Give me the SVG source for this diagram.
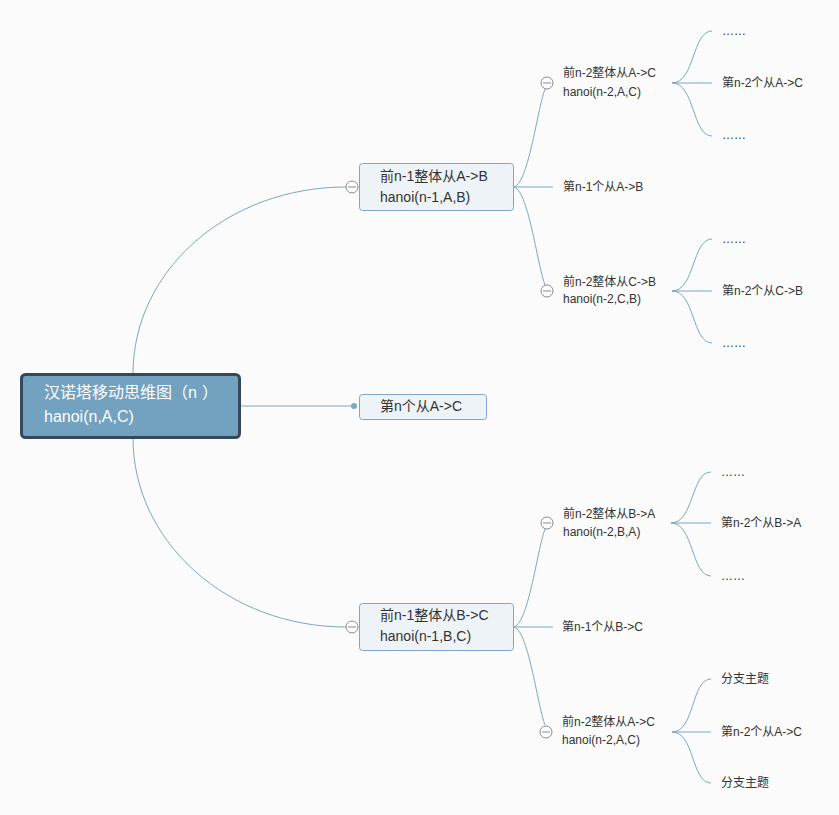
<svg xmlns="http://www.w3.org/2000/svg" width="839" height="815" viewBox="0 0 839 815">
<style>
.bg{fill:#fbfbfb}
.ln{fill:none;stroke:#7ea6c6;stroke-width:1}
.box{fill:#eef3f7;stroke:#7ea6c6;stroke-width:1}
.root{fill:#73a1c0;stroke:#36495a;stroke-width:3}
.t{font-family:"Liberation Sans","Noto Sans CJK SC",sans-serif;fill:#333}
.t14{font-size:14px}
.t12{font-size:12px}
.rt{font-family:"Liberation Sans","Noto Sans CJK SC",sans-serif;font-size:16px;fill:#ffffff}
.col{fill:#ffffff;stroke:#8a8a8a;stroke-width:1}
.colm{stroke:#8a8a8a;stroke-width:1}
</style>
<defs>
<g id="collapse"><circle class="col" cx="0" cy="0" r="6"/><line class="colm" x1="-4" y1="0" x2="4" y2="0"/></g>
</defs>
<rect class="bg" x="0" y="0" width="839" height="815"/>
<g id="connectors">
<path class="ln" d="M133,374 C133,270 228,187 346,187"/>
<path class="ln" d="M133,438 C133,542 228,627 346,627"/>
<path class="ln" d="M240,406 L354,406"/>
<circle cx="354" cy="406" r="3" fill="#7ea6c6"/>
<path class="ln" d="M513,187 C528,187 537,110 545,89"/>
<path class="ln" d="M513,187 L553,187"/>
<path class="ln" d="M513,187 C528,187 537,264 545,285"/>
<path class="ln" d="M513,627 C528,627 537,550 545,529"/>
<path class="ln" d="M513,627 L553,627"/>
<path class="ln" d="M513,627 C528,627 537,704 545,725"/>
<path class="ln" d="M672,83 C695,83 692,31 712,31"/>
<path class="ln" d="M672,83 L712,83"/>
<path class="ln" d="M672,83 C695,83 692,136 712,136"/>
<path class="ln" d="M672,291 C695,291 692,239 712,239"/>
<path class="ln" d="M672,291 L712,291"/>
<path class="ln" d="M672,291 C695,291 692,343 712,343"/>
<path class="ln" d="M671,523 C694,523 691,472 711,472"/>
<path class="ln" d="M671,523 L711,523"/>
<path class="ln" d="M671,523 C694,523 691,576 711,576"/>
<path class="ln" d="M672,732 C695,732 691,679 711,679"/>
<path class="ln" d="M672,732 L711,732"/>
<path class="ln" d="M672,732 C695,732 691,783 711,783"/>
</g>
<g id="root">
<rect class="root" x="21.5" y="374.5" width="218" height="63" rx="4"/>
<text class="rt" x="44" y="398">汉诺塔移动思维图<tspan x="172">（</tspan><tspan x="188">n</tspan><tspan x="202">）</tspan></text>
<text class="rt" x="44" y="422">hanoi(n,A,C)</text>
</g>
<g id="n1">
<rect class="box" x="359.5" y="163.5" width="154" height="47" rx="3"/>
<text class="t t14" x="380" y="181">前n-1整体从A-&gt;B</text>
<text class="t t14" x="380" y="202">hanoi(n-1,A,B)</text>
<use href="#collapse" x="352" y="187"/>
</g>
<g id="n2">
<rect class="box" x="359.5" y="394.5" width="127" height="25" rx="3"/>
<text class="t t14" x="380" y="411">第n个从A-&gt;C</text>
</g>
<g id="n3">
<rect class="box" x="359.5" y="603.5" width="154" height="47" rx="3"/>
<text class="t t14" x="380" y="620">前n-1整体从B-&gt;C</text>
<text class="t t14" x="380" y="641">hanoi(n-1,B,C)</text>
<use href="#collapse" x="352" y="627"/>
</g>
<g id="n1a">
<use href="#collapse" x="547" y="83"/>
<text class="t t12" x="563" y="77">前n-2整体从A-&gt;C</text>
<text class="t t12" x="563" y="96">hanoi(n-2,A,C)</text>
</g>
<g id="n1b"><text class="t t12" x="563" y="191">第n-1个从A-&gt;B</text></g>
<g id="n1c">
<use href="#collapse" x="547" y="291"/>
<text class="t t12" x="563" y="286">前n-2整体从C-&gt;B</text>
<text class="t t12" x="563" y="303">hanoi(n-2,C,B)</text>
</g>
<g id="n3a">
<use href="#collapse" x="547" y="523"/>
<text class="t t12" x="563" y="518">前n-2整体从B-&gt;A</text>
<text class="t t12" x="563" y="536">hanoi(n-2,B,A)</text>
</g>
<g id="n3b"><text class="t t12" x="562" y="631">第n-1个从B-&gt;C</text></g>
<g id="n3c">
<use href="#collapse" x="546" y="732"/>
<text class="t t12" x="562" y="726">前n-2整体从A-&gt;C</text>
<text class="t t12" x="562" y="744">hanoi(n-2,A,C)</text>
</g>
<g id="l3a1"><text class="t t12" x="722" y="35">……</text></g>
<g id="l3a2"><text class="t t12" x="722" y="87">第n-2个从A-&gt;C</text></g>
<g id="l3a3"><text class="t t12" x="722" y="139">……</text></g>
<g id="l3b1"><text class="t t12" x="722" y="243">……</text></g>
<g id="l3b2"><text class="t t12" x="722" y="295">第n-2个从C-&gt;B</text></g>
<g id="l3b3"><text class="t t12" x="722" y="347">……</text></g>
<g id="l3c1"><text class="t t12" x="721" y="476">……</text></g>
<g id="l3c2"><text class="t t12" x="721" y="527">第n-2个从B-&gt;A</text></g>
<g id="l3c3"><text class="t t12" x="721" y="580">……</text></g>
<g id="l3d1"><text class="t t12" x="721" y="683">分支主题</text></g>
<g id="l3d2"><text class="t t12" x="721" y="736">第n-2个从A-&gt;C</text></g>
<g id="l3d3"><text class="t t12" x="721" y="787">分支主题</text></g>
</svg>
